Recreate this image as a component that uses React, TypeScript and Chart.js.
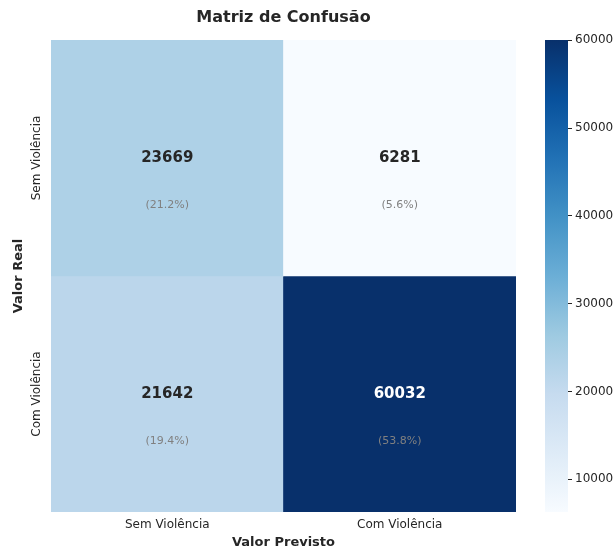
import React, { useEffect, useRef } from "react";
import { Chart, registerables } from "chart.js";

Chart.register(...registerables);

// ---- Data ----
const predictedLabels = ["Sem Violência", "Com Violência"]; // columns (Valor Previsto)
const actualLabels = ["Sem Violência", "Com Violência"]; // rows (Valor Real)
const rowSemViolencia = [23669, 6281];
const rowComViolencia = [21642, 60032];
const colorbarTicks = [10000, 20000, 30000, 40000, 50000, 60000];
const chartTitle = "Matriz de Confusão";

const matrix = [rowSemViolencia, rowComViolencia];
const allValues = [...rowSemViolencia, ...rowComViolencia];
const vmin = Math.min(...allValues);
const vmax = Math.max(...allValues);
const total = allValues.reduce((a, b) => a + b, 0);

// ---- Blues colormap (matplotlib / ColorBrewer) ----
const bluesStops = [
  "#f7fbff",
  "#deebf7",
  "#c6dbef",
  "#9ecae1",
  "#6baed6",
  "#4292c6",
  "#2171b5",
  "#08519c",
  "#08306b",
];
function hexToRgb(h: string) {
  return [parseInt(h.slice(1, 3), 16), parseInt(h.slice(3, 5), 16), parseInt(h.slice(5, 7), 16)];
}
function blues(t: number) {
  const tt = Math.max(0, Math.min(1, t)) * (bluesStops.length - 1);
  const i = Math.min(bluesStops.length - 2, Math.floor(tt));
  const f = tt - i;
  const a = hexToRgb(bluesStops[i]);
  const b = hexToRgb(bluesStops[i + 1]);
  const c = a.map((v, k) => Math.round(v + (b[k] - v) * f));
  return `rgb(${c[0]},${c[1]},${c[2]})`;
}
const norm = (v: number) => (v - vmin) / (vmax - vmin);

const FONT = "'DejaVu Sans', sans-serif";
const TEXT = "#262626";

const cellLabelPlugin = {
  id: "cellLabels",
  afterDatasetsDraw(chart: any) {
    const ctx = chart.ctx;
    ctx.save();
    ctx.textAlign = "center";
    ctx.textBaseline = "middle";
    chart.data.datasets.forEach((ds: any, di: number) => {
      const meta = chart.getDatasetMeta(di);
      meta.data.forEach((el: any, ci: number) => {
        const v = matrix[di][ci];
        const cx = el.x;
        const cy = (el.y + el.base) / 2;
        const h = Math.abs(el.base - el.y);
        ctx.font = `bold 15px ${FONT}`;
        ctx.fillStyle = norm(v) > 0.5 ? "#ffffff" : TEXT;
        ctx.fillText(String(v), cx, cy);
        ctx.font = `11px ${FONT}`;
        ctx.fillStyle = "#808080";
        ctx.fillText(`(${((v / total) * 100).toFixed(1)}%)`, cx, cy + h * 0.2);
      });
    });
    ctx.restore();
  },
};

const yTickPlugin = {
  id: "yTickLabels",
  afterDraw(chart: any) {
    const ctx = chart.ctx;
    const y = chart.scales.y;
    const area = chart.chartArea;
    ctx.save();
    ctx.font = `12px ${FONT}`;
    ctx.fillStyle = TEXT;
    ctx.textAlign = "center";
    ctx.textBaseline = "middle";
    actualLabels.forEach((lab, i) => {
      const py = y.getPixelForValue(i + 0.5);
      ctx.save();
      ctx.translate(area.left - 14, py);
      ctx.rotate(-Math.PI / 2);
      ctx.fillText(lab, 0, 0);
      ctx.restore();
    });
    // title centred over the heatmap
    ctx.font = `bold 16px ${FONT}`;
    ctx.fillText(chartTitle, (area.left + area.right) / 2, 17.5);
    ctx.restore();
  },
};

export default function App() {
  const heatRef = useRef<HTMLCanvasElement>(null);
  const cbRef = useRef<HTMLCanvasElement>(null);

  useEffect(() => {
    const heat = new Chart(heatRef.current!, {
      type: "bar",
      data: {
        labels: predictedLabels,
        datasets: matrix.map((row, ri) => ({
          label: actualLabels[ri],
          data: row.map(() => [ri, ri + 1]) as any,
          backgroundColor: row.map((v) => blues(norm(v))),
          borderWidth: 0,
          barPercentage: 1,
          categoryPercentage: 1,
          grouped: false,
        })),
      },
      options: {
        animation: false,
        responsive: false,
        layout: { padding: { left: 0, right: 50, top: 40, bottom: 0 } },
        plugins: {
          legend: { display: false },
          tooltip: { enabled: false },
          title: { display: false },
        },
        scales: {
          x: {
            type: "category",
            grid: { display: false, drawTicks: false },
            border: { display: false },
            ticks: { color: TEXT, font: { family: FONT, size: 12 }, padding: 6, maxRotation: 0 },
            title: {
              display: true,
              text: "Valor Previsto",
              color: TEXT,
              font: { family: FONT, size: 13, weight: "bold", lineHeight: 1.2 },
              padding: { top: 0, bottom: 1.5 },
            },
            afterFit(scale: any) {
              scale.height = 40;
            },
          },
          y: {
            type: "linear",
            min: 0,
            max: 2,
            reverse: true,
            grid: { display: false, drawTicks: false },
            border: { display: false },
            ticks: { display: false },
            title: {
              display: true,
              text: "Valor Real",
              color: TEXT,
              font: { family: FONT, size: 13, weight: "bold", lineHeight: 1.2 },
              padding: { top: 11, bottom: 0 },
            },
            afterFit(scale: any) {
              scale.width = 51;
            },
          },
        },
      },
      plugins: [cellLabelPlugin, yTickPlugin],
    });

    const cb = new Chart(cbRef.current!, {
      type: "bar",
      data: {
        labels: [""],
        datasets: [
          {
            data: [[vmin, vmax]] as any,
            borderWidth: 0,
            barPercentage: 1,
            categoryPercentage: 1,
            backgroundColor: (c: any) => {
              const chart = c.chart;
              const ys = chart.scales && chart.scales.y;
              if (!chart.chartArea || !ys) return blues(0.5);
              const g = chart.ctx.createLinearGradient(
                0,
                ys.getPixelForValue(vmin),
                0,
                ys.getPixelForValue(vmax)
              );
              bluesStops.forEach((s, i) => g.addColorStop(i / (bluesStops.length - 1), s));
              return g;
            },
          },
        ],
      },
      options: {
        animation: false,
        responsive: false,
        layout: { padding: { left: 25, right: 0, top: 40, bottom: 40 } },
        plugins: { legend: { display: false }, tooltip: { enabled: false } },
        scales: {
          x: { display: false },
          y: {
            position: "right",
            min: vmin,
            max: vmax,
            grid: { drawOnChartArea: false, drawTicks: true, tickLength: 4, color: TEXT },
            border: { display: false },
            ticks: {
              color: TEXT,
              font: { family: FONT, size: 12 },
              padding: 3,
              autoSkip: false,
              callback: (v: any) => String(v),
            },
            afterBuildTicks(scale: any) {
              scale.ticks = colorbarTicks.map((v) => ({ value: v }));
            },
            afterFit(scale: any) {
              scale.width = 48;
            },
          },
        },
      },
    });

    return () => {
      heat.destroy();
      cb.destroy();
    };
  }, []);

  return (
    <div style={{ position: "fixed", left: 0, top: 0, width: 616, height: 552, background: "#fff" }}>
      <canvas
        ref={heatRef}
        width={566}
        height={552}
        style={{ position: "absolute", left: 0, top: 0, width: 566, height: 552 }}
      />
      <canvas
        ref={cbRef}
        width={96}
        height={552}
        style={{ position: "absolute", left: 520, top: 0, width: 96, height: 552 }}
      />
    </div>
  );
}
